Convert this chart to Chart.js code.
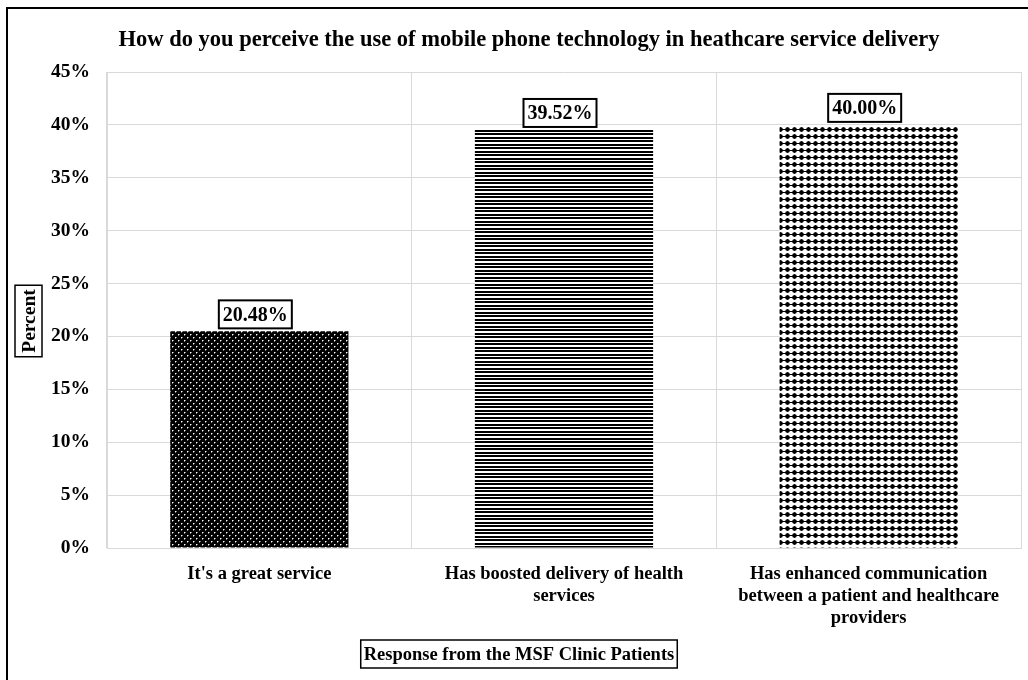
<!DOCTYPE html>
<html>
<head>
<meta charset="utf-8">
<script src="https://cdn.jsdelivr.net/npm/chart.js@4"></script>
<style>
  html, body { margin: 0; padding: 0; background: #fff; }
  #wrap { width: 1028px; height: 680px; }
</style>
</head>
<body>
<div id="wrap"><canvas id="chartBar" width="1028" height="680"></canvas></div>
<script>
const chartTitle = 'How do you perceive the use of mobile phone technology in heathcare service delivery';
const xTitle = 'Response from the MSF Clinic Patients';
const yTitle = 'Percent';
const responses = [
  ["It's a great service"],
  ['Has boosted delivery of health', 'services'],
  ['Has enhanced communication', 'between a patient and healthcare', 'providers']
];
const percents = [20.48, 39.52, 40.00];
const yMax = 45;
const yStep = 5;

const FONT = "'Liberation Serif', 'Times New Roman', serif";

// fill patterns for the three bars
function makePattern(w, h, draw) {
  const c = document.createElement('canvas');
  c.width = w; c.height = h;
  const g = c.getContext('2d');
  draw(g, w, h);
  return document.getElementById('chartBar').getContext('2d').createPattern(c, 'repeat');
}

// dark fill with fine white dots
const dotsPattern = makePattern(6, 6, (g, w, h) => {
  g.fillStyle = '#000';
  g.fillRect(0, 0, w, h);
  g.fillStyle = '#fff';
  g.fillRect(1, 1, 1, 1);
  g.fillRect(4, 4, 1, 1);
  g.fillStyle = '#777';
  g.fillRect(2, 1, 1, 1);
  g.fillRect(5, 4, 1, 1);
  g.fillRect(1, 2, 1, 1);
  g.fillRect(4, 5, 1, 1);
});

// horizontal stripes
const stripesPattern = makePattern(7, 7, (g, w, h) => {
  g.fillStyle = '#fff';
  g.fillRect(0, 0, w, h);
  g.fillStyle = '#000';
  g.fillRect(0, 0, w, 2);
  g.fillRect(0, 4, w, 2);
});

// white fill with rows of black dots
const diamondPattern = makePattern(7, 7, (g, w, h) => {
  g.fillStyle = '#fff';
  g.fillRect(0, 0, w, h);
  g.fillStyle = '#000';
  g.beginPath();
  g.moveTo(3.5, 0.9);
  g.lineTo(6.1, 3.5);
  g.lineTo(3.5, 6.1);
  g.lineTo(0.9, 3.5);
  g.closePath();
  g.fill();
  g.beginPath();
  g.arc(3.5, 3.5, 2.3, 0, Math.PI * 2);
  g.fill();
  g.fillRect(0, 3, w, 1);
});

const framePlugin = {
  id: 'frame',
  beforeDraw(chart) {
    const ctx = chart.ctx;
    ctx.save();
    ctx.fillStyle = '#fff';
    ctx.fillRect(0, 0, chart.width, chart.height);
    ctx.restore();
  },
  afterDraw(chart) {
    const ctx = chart.ctx;
    const area = chart.chartArea;
    ctx.save();
    // outer frame (runs off the right and bottom edges)
    ctx.strokeStyle = '#000';
    ctx.lineWidth = 2;
    ctx.strokeRect(7, 8, 1100, 1100);

    // chart title
    ctx.fillStyle = '#000';
    ctx.font = 'bold 22.5px ' + FONT;
    ctx.textAlign = 'center';
    ctx.textBaseline = 'alphabetic';
    ctx.fillText(chartTitle, 529, 46);

    // boxed x-axis title
    ctx.font = 'bold 18.5px ' + FONT;
    ctx.textBaseline = 'middle';
    const xw = ctx.measureText(xTitle).width + 6;
    const xc = 519, yc = 654;
    ctx.lineWidth = 1.5;
    ctx.strokeRect(xc - xw / 2, yc - 14, xw, 28);
    ctx.fillText(xTitle, xc, yc + 1);

    // boxed, rotated y-axis title
    ctx.font = 'bold 19.5px ' + FONT;
    ctx.translate(28.5, (area.top + area.bottom) / 2 + 11);
    ctx.rotate(-Math.PI / 2);
    const yw = ctx.measureText(yTitle).width + 8;
    ctx.strokeRect(-yw / 2, -13.5, yw, 27);
    ctx.fillText(yTitle, 0, 1);
    ctx.restore();
  },
  afterDatasetsDraw(chart) {
    // boxed value labels above each bar
    const ctx = chart.ctx;
    const meta = chart.getDatasetMeta(0);
    ctx.save();
    ctx.font = 'bold 20px ' + FONT;
    ctx.textAlign = 'center';
    ctx.textBaseline = 'middle';
    meta.data.forEach((bar, i) => {
      const txt = percents[i].toFixed(2) + '%';
      const w = ctx.measureText(txt).width + 8;
      const h = 28;
      const cx = bar.x - 4;
      const bottom = bar.y - 3;
      ctx.fillStyle = '#fff';
      ctx.fillRect(cx - w / 2, bottom - h, w, h);
      ctx.strokeStyle = '#000';
      ctx.lineWidth = 2;
      ctx.strokeRect(cx - w / 2, bottom - h, w, h);
      ctx.fillStyle = '#000';
      ctx.fillText(txt, cx, bottom - h / 2 + 1);
    });
    ctx.restore();
  }
};

const chartBar = new Chart(document.getElementById('chartBar').getContext('2d'), {
  type: 'bar',
  data: {
    labels: responses,
    datasets: [{
      data: percents,
      backgroundColor: [dotsPattern, stripesPattern, diamondPattern],
      borderWidth: 0,
      barPercentage: 0.585,
      categoryPercentage: 1
    }]
  },
  options: {
    responsive: false,
    animation: false,
    layout: { padding: { top: 72, right: 7, bottom: 0, left: 0 } },
    plugins: {
      legend: { display: false },
      tooltip: { enabled: false },
      title: { display: false }
    },
    scales: {
      x: {
        offset: true,
        afterFit: s => { s.height = 132; },
        grid: { display: true, offset: true, color: '#d9d9d9', lineWidth: 1, drawTicks: false },
        border: { display: true, color: '#d9d9d9', width: 1 },
        ticks: {
          color: '#000',
          padding: 15,
          maxRotation: 0,
          autoSkip: false,
          font: { family: FONT, size: 18.5, weight: 'bold', lineHeight: 1.2 }
        }
      },
      y: {
        min: 0,
        max: yMax,
        afterFit: s => { s.width = 107; },
        grid: { color: '#d9d9d9', lineWidth: 1, drawTicks: false },
        border: { display: true, color: '#d9d9d9', width: 1 },
        ticks: {
          stepSize: yStep,
          color: '#000',
          padding: 17,
          font: { family: FONT, size: 19.5, weight: 'bold' },
          callback: v => v + '%'
        }
      }
    }
  },
  plugins: [framePlugin]
});
</script>
</body>
</html>
